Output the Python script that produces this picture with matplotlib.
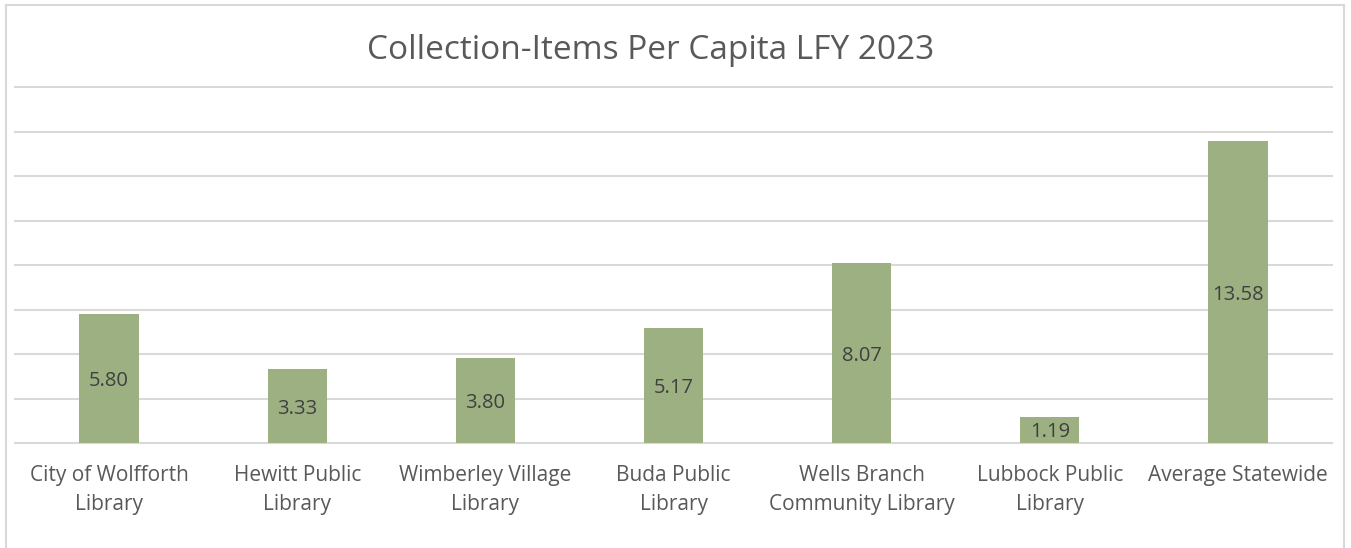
import matplotlib.pyplot as plt
from matplotlib.lines import Line2D

# data
libraries = ["City of Wolfforth\nLibrary", "Hewitt Public\nLibrary", "Wimberley Village\nLibrary",
             "Buda Public\nLibrary", "Wells Branch\nCommunity Library", "Lubbock Public\nLibrary",
             "Average Statewide"]
items_per_capita = [5.80, 3.33, 3.80, 5.17, 8.07, 1.19, 13.58]

plt.rcParams['font.family'] = ['Open Sans', 'DejaVu Sans']

fig = plt.figure(figsize=(13.51, 5.48), dpi=100)
ax = fig.add_axes([15/1351, 105/548, 1317/1351, 356/548])

x = range(len(libraries))
bars = ax.bar(x, items_per_capita, width=0.315, color="#9DB082", zorder=3)

for b, v in zip(bars, items_per_capita):
    ax.text(b.get_x() + b.get_width()/2, v/2 - 0.12, f"{v:.2f}", ha="center", va="center",
            fontsize=14.5, color="#404040", zorder=4)

ax.set_ylim(0, 16)
ax.set_xlim(-0.5, len(libraries) - 0.5)
ax.set_yticks(range(0, 17, 2))
ax.set_yticklabels([])
ax.tick_params(axis="y", length=0)
ax.tick_params(axis="x", length=0, pad=16)
ax.set_xticks(list(x))
ax.set_xticklabels(libraries, fontsize=15, color="#595959", linespacing=1.5)
ax.grid(axis="y", color="#D9D9D9", linewidth=1.5, zorder=0)
for gl in ax.yaxis.get_gridlines():
    gl.set_clip_on(False)
for s in ax.spines.values():
    s.set_visible(False)

fig.text(0.4815, 1 - 50/548, "Collection-Items Per Capita LFY 2023", ha="center", va="center",
         fontsize=24, color="#595959")

# chart border (left, top, right)
bc = "#D9D9D9"
fig.add_artist(Line2D([6/1351, 6/1351], [0, 1 - 5/548], color=bc, lw=1.5))
fig.add_artist(Line2D([6/1351, 1344/1351], [1 - 5/548, 1 - 5/548], color=bc, lw=1.5))
fig.add_artist(Line2D([1344/1351, 1344/1351], [0, 1 - 5/548], color=bc, lw=1.5))

fig.savefig("out.png", dpi=100)
